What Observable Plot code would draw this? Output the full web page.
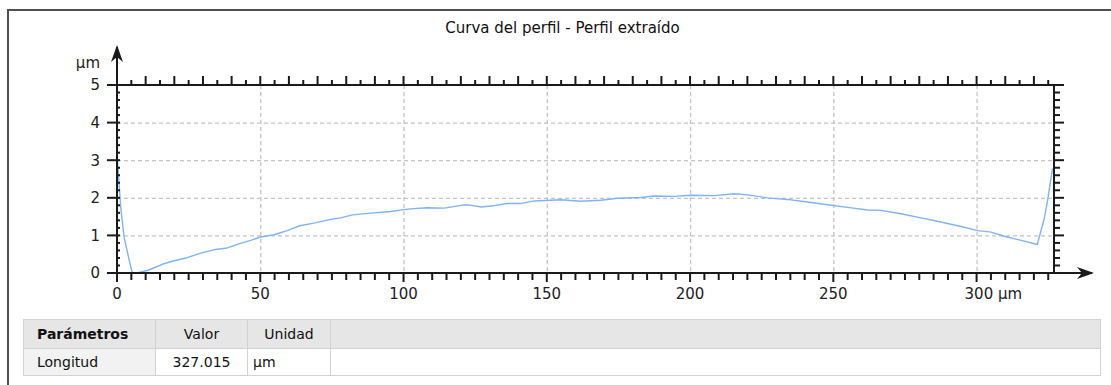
<!DOCTYPE html>
<html>
<head>
<meta charset="utf-8">
<script src="https://cdn.jsdelivr.net/npm/d3@7"></script>
<script src="https://cdn.jsdelivr.net/npm/@observablehq/plot@0.6"></script>
<style>
  body { margin:0; width:1111px; height:385px; overflow:hidden; position:relative; background:#fff; font-family:"DejaVu Sans", sans-serif; }
  #frame { position:absolute; left:7px; top:9px; width:1120px; height:420px; border:2px solid #505050; box-sizing:border-box; }
  #title { position:absolute; left:9px; width:1107px; top:19px; text-align:center; font-size:15px; color:#111; }
  #chart { position:absolute; left:0; top:0; }
  table { position:absolute; left:23px; top:319px; width:1078px; border-collapse:collapse; table-layout:fixed; font-size:14px; color:#111; }
  td { border:1px solid #d2d2d2; padding:0; overflow:hidden; white-space:nowrap; }
  tr.h td { background:#e6e6e6; height:28px; }
  tr.r td { height:26px; background:#fff; }
  tr.r td.c1 { background:#f2f2f2; }
</style>
</head>
<body>
<div id="frame"></div>
<div id="title">Curva del perfil - Perfil extraído</div>
<div id="chart"></div>
<table id="tbl"></table>
<script>
// ---- data ----
const profileLength = 327.015;
const profileX = [0, 0.5, 1.1, 2.3, 4.1, 5.2, 7.5, 10.4, 13.0, 16.2, 19.7, 24.3, 29.0, 33.6, 38.3, 42.9, 46.5, 49.9, 54.6, 59.2, 63.6, 68.5, 74.4, 77.9, 82.0, 87.5, 95.3, 100.0, 102.3, 108.0, 114.0, 120.5, 123.0, 127.0, 131.0, 136.1, 140.7, 145.4, 151.2, 154.7, 161.7, 168.7, 174.5, 182.6, 187.3, 194.3, 200.0, 208.3, 215.3, 220.0, 226.8, 233.8, 240.8, 247.8, 254.8, 261.8, 266.5, 273.4, 280.4, 287.4, 294.4, 300.2, 304.9, 309.5, 315.4, 321.0, 323.4, 324.6, 326.3];
const profileY = [3.00, 2.45, 1.78, 0.97, 0.35, 0.00, 0.03, 0.08, 0.16, 0.26, 0.34, 0.42, 0.54, 0.63, 0.68, 0.80, 0.88, 0.97, 1.03, 1.14, 1.27, 1.34, 1.44, 1.48, 1.56, 1.60, 1.65, 1.70, 1.72, 1.75, 1.74, 1.82, 1.82, 1.77, 1.80, 1.86, 1.86, 1.93, 1.95, 1.96, 1.92, 1.95, 2.00, 2.02, 2.06, 2.05, 2.08, 2.07, 2.12, 2.09, 2.01, 1.97, 1.90, 1.83, 1.76, 1.69, 1.68, 1.59, 1.48, 1.37, 1.25, 1.14, 1.10, 0.99, 0.88, 0.77, 1.45, 1.94, 2.78];
const xMajorTicks = [0, 50, 100, 150, 200, 250, 300];
const xTickLabels = ["0", "50", "100", "150", "200", "250", "300 µm"];
const yMajorTicks = [0, 1, 2, 3, 4, 5];
const yTickLabels = ["0", "1", "2", "3", "4", "5"];
const yUnit = "µm";
const tableHeader = ["Parámetros", "Valor", "Unidad", ""];
const tableRow = ["Longitud", "327.015", "µm", ""];

const profile = profileX.map((x, i) => ({x, y: profileY[i]}));
const xMinor = d3.range(0, 326, 5);
const yMinor = d3.range(0, 5.001, 0.2).map(v => +v.toFixed(1));

const plot = Plot.plot({
  width: 1111, height: 310,
  marginLeft: 117, marginRight: 57, marginTop: 85, marginBottom: 37,
  x: {domain: [0, profileLength], axis: null},
  y: {domain: [0, 5], axis: null},
  marks: [
    Plot.ruleX(xMajorTicks.slice(1), {stroke: "#c4c4c4", strokeWidth: 1.3, strokeDasharray: "4,3"}),
    Plot.ruleY(yMajorTicks.slice(1, 5), {stroke: "#c4c4c4", strokeWidth: 1.3, strokeDasharray: "4,3"}),
    Plot.line(profile, {x: "x", y: "y", stroke: "#7fb3f6", strokeWidth: 1.4})
  ]
});
document.getElementById("chart").appendChild(plot);

// ---- axes drawn from the plot's own scales ----
const sx = plot.scale("x"), sy = plot.scale("y");
const X = v => sx.apply(v), Y = v => sy.apply(v);
const svg = d3.select(plot);
const g = svg.append("g").attr("stroke", "#1a1a1a").attr("fill", "none");
const x0 = X(0), x1 = X(profileLength), y0 = Y(0), y5 = Y(5);

// frame lines
g.append("line").attr("x1", x0).attr("x2", x1 + 10).attr("y1", y5).attr("y2", y5).attr("stroke-width", 2);
g.append("line").attr("x1", x1).attr("x2", x1).attr("y1", y5).attr("y2", y0).attr("stroke-width", 2);
g.append("line").attr("x1", x0 - 10).attr("x2", x1 + 38).attr("y1", y0).attr("y2", y0).attr("stroke-width", 2);
g.append("line").attr("x1", x0).attr("x2", x0).attr("y1", y0 + 9).attr("y2", y5 - 38).attr("stroke-width", 2);

// arrow heads
const ax = x1 + 40, ay = y5 - 40;
svg.append("path").attr("fill", "#1a1a1a")
  .attr("d", `M${ax},${y0} L${ax - 17},${y0 - 6} L${ax - 12},${y0} L${ax - 17},${y0 + 6} Z`);
svg.append("path").attr("fill", "#1a1a1a")
  .attr("d", `M${x0},${ay} L${x0 - 6},${ay + 17} L${x0},${ay + 12} L${x0 + 6},${ay + 17} Z`);

// x ticks: top (upward) and bottom (downward)
xMinor.forEach(v => {
  const long = v % 10 === 0;
  g.append("line").attr("x1", X(v)).attr("x2", X(v)).attr("y1", y5).attr("y2", y5 - (long ? 9 : 5)).attr("stroke-width", 2);
  g.append("line").attr("x1", X(v)).attr("x2", X(v)).attr("y1", y0).attr("y2", y0 + (v % 50 === 0 ? 9 : 7)).attr("stroke-width", 2);
});
// y ticks: left (minor inward, major crossing) and right (outward)
yMinor.forEach(v => {
  const major = Math.abs(v - Math.round(v)) < 1e-6;
  g.append("line").attr("x1", major ? x0 - 10 : x0).attr("x2", x0 + 3).attr("y1", Y(v)).attr("y2", Y(v)).attr("stroke-width", 2);
  g.append("line").attr("x1", x1).attr("x2", x1 + (major ? 10 : 6)).attr("y1", Y(v)).attr("y2", Y(v)).attr("stroke-width", 2);
});

// labels
const lab = svg.append("g").attr("fill", "#222").attr("font-family", "DejaVu Sans, sans-serif").attr("font-size", 15);
yMajorTicks.forEach((v, i) => {
  lab.append("text").attr("x", x0 - 17).attr("y", Y(v)).attr("dy", "0.36em").attr("text-anchor", "end").text(yTickLabels[i]);
});
lab.append("text").attr("x", x0 - 17).attr("y", y5 - 22).attr("dy", "0.36em").attr("text-anchor", "end").text(yUnit);
xMajorTicks.forEach((v, i) => {
  const last = i === xMajorTicks.length - 1;
  lab.append("text").attr("x", last ? X(v) - 12 : X(v)).attr("y", y0 + 21).attr("dy", "0.36em")
    .attr("text-anchor", last ? "start" : "middle").text(xTickLabels[i]);
});

// table
const tbl = d3.select("#tbl");
const cg = tbl.append("colgroup");
[132, 92, 83, null].forEach(w => cg.append("col").style("width", w ? w + "px" : null));
const hr = tbl.append("tr").attr("class", "h");
tableHeader.forEach((t, i) => {
  const td = hr.append("td").text(t);
  if (i === 0) td.style("font-weight", "bold").style("padding-left", "13px");
  else if (i < 3) td.style("text-align", "center");
});
const rr = tbl.append("tr").attr("class", "r");
tableRow.forEach((t, i) => {
  const td = rr.append("td").text(t).attr("class", "c" + (i + 1));
  if (i === 0) td.style("padding-left", "13px");
  else if (i === 1) td.style("text-align", "center");
  else if (i === 2) td.style("padding-left", "5px");
});
</script>
</body>
</html>
